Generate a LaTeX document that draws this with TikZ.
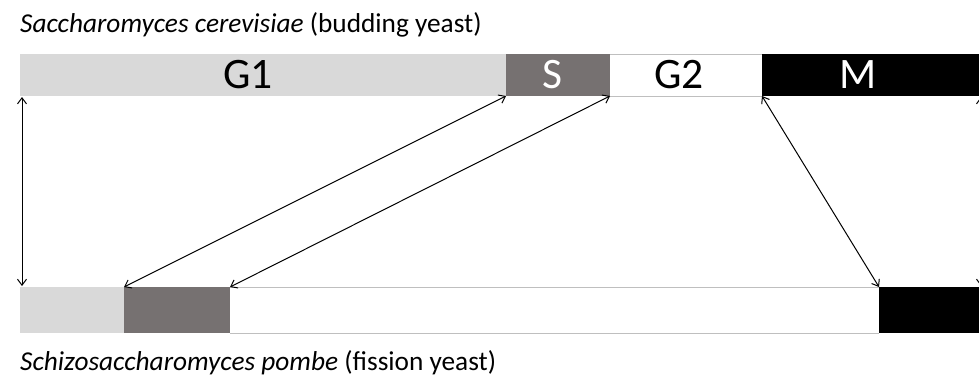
\documentclass[tikz,border=0pt]{standalone}
\usepackage{fontspec}
\setmainfont{Carlito}
\usetikzlibrary{arrows.meta}
\begin{document}
\begin{tikzpicture}[x=1pt,y=-1pt,
  seg/.style={draw=none,inner sep=0pt,outer sep=0pt,anchor=north west,minimum height=42pt},
  bseg/.style={draw=none,inner sep=0pt,outer sep=0pt,anchor=north west,minimum height=46pt},
  lab/.style={anchor=base,inner sep=0pt,font=\fontsize{43.5}{43.5}\selectfont},
  conn/.style={<->,>={Straight Barb[length=6pt,width=9pt]},line width=1pt},
  title/.style={anchor=base west,inner sep=0pt,font=\fontsize{27.3}{27.3}\selectfont}]
\useasboundingbox (0,0) rectangle (979,376);
\clip (0,0) rectangle (979,376);
\definecolor{lg}{HTML}{D9D9D9}
\definecolor{dg}{HTML}{767171}
\definecolor{edge}{HTML}{BFBFBF}
% top bar
\node[seg,fill=lg,minimum width=486pt] (g1) at (20,54) {};
\node[seg,fill=dg,minimum width=104pt] (s) at (506,54) {};
\node[seg,fill=white,minimum width=152pt] (g2) at (610,54) {};
\node[seg,fill=black,minimum width=230pt] (m) at (762,54) {};
\draw[edge,line width=1pt] (g2.north west) -- (g2.north east);
\draw[edge,line width=1pt] (g2.south west) -- (g2.south east);
\node[lab] (lg1) at (248,88) {G1};
\node[lab,text=white] (ls) at (552,88) {S};
\node[lab] (lg2) at (679,88) {G2};
\node[lab,text=white] (lm) at (858,88) {M};
% bottom bar
\node[bseg,fill=lg,minimum width=104pt] (b1) at (20,287) {};
\node[bseg,fill=dg,minimum width=106pt] (b2) at (124,287) {};
\node[bseg,fill=white,minimum width=649pt] (b3) at (230,287) {};
\node[bseg,fill=black,minimum width=120pt] (b4) at (879,287) {};
\draw[edge,line width=1pt] (b3.north west) -- (b3.north east);
\draw[edge,line width=1pt] (b3.south west) -- (b3.south east);
% titles
\node[title] (t1) at (20,32) {\textit{Saccharomyces cerevisiae} (budding yeast)};
\node[title] (t2) at (20,370) {\textit{Schizosaccharomyces pombe} (fission yeast)};
% connectors
\coordinate (ta) at (22,97);
\coordinate (ba) at (22,286);
\draw[conn] (ta) -- (ba);
\draw[conn] (b2.north west) -- (s.south west);
\draw[conn] (b3.north west) -- (g2.south west);
\draw[conn] (m.south west) -- (b4.north west);
\coordinate (tr) at (981,97);
\coordinate (br) at (981,286);
\draw[conn] (tr) -- (br);
\end{tikzpicture}
\end{document}
